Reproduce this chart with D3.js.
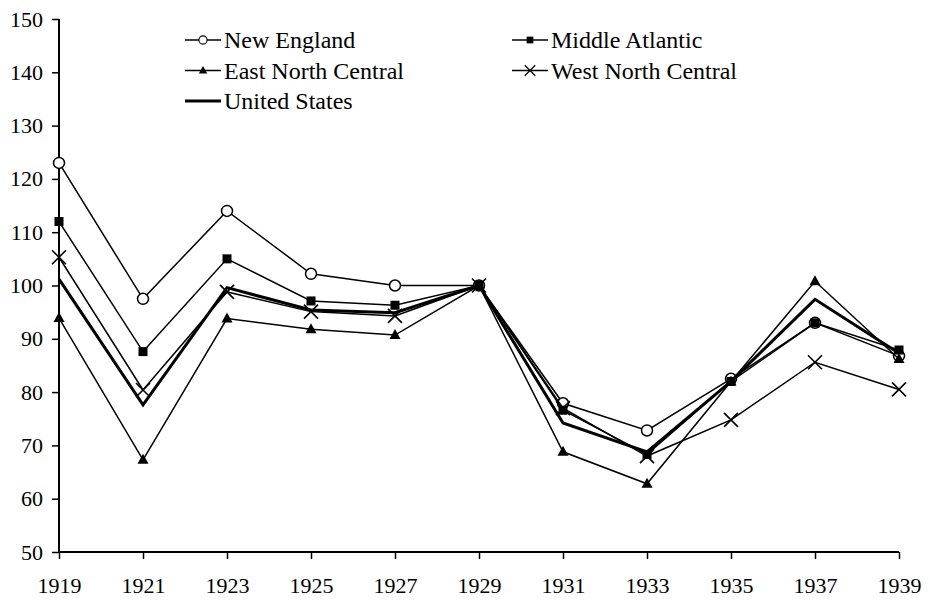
<!DOCTYPE html>
<html>
<head>
<meta charset="utf-8">
<script src="https://cdn.jsdelivr.net/npm/d3@7"></script>
<style>
  body { margin: 0; background: #fff; }
</style>
</head>
<body>
<div id="chart"></div>
<script>
// years on the x axis
const years = [1919, 1921, 1923, 1925, 1927, 1929, 1931, 1933, 1935, 1937, 1939];
const yTicks = [50, 60, 70, 80, 90, 100, 110, 120, 130, 140, 150];

// index values per region (1929 = 100)
const newEngland       = [123, 97.5, 114, 102.2, 100, 100, 77.9, 72.8, 82.5, 93, 86.8];
const middleAtlantic   = [112, 87.6, 105, 97.1, 96.3, 100, 76.6, 68.3, 82, 93, 87.9];
const eastNorthCentral = [93.9, 67.3, 93.8, 91.8, 90.7, 100, 68.8, 62.8, 82, 100.8, 86.2];
const westNorthCentral = [105.3, 80.4, 98.8, 95.1, 94.3, 100, 77, 68, 74.8, 85.6, 80.5];
const unitedStates     = [101.2, 77.6, 99.6, 95.4, 94.9, 100, 74.2, 68.8, 82, 97.4, 87.3];

const series = [
  { name: "New England", values: newEngland, marker: "circle", width: 1.5 },
  { name: "Middle Atlantic", values: middleAtlantic, marker: "square", width: 1.5 },
  { name: "East North Central", values: eastNorthCentral, marker: "triangle", width: 1.5 },
  { name: "West North Central", values: westNorthCentral, marker: "cross", width: 1.5 },
  { name: "United States", values: unitedStates, marker: null, width: 3 }
];

const FONT = "'Liberation Serif', 'DejaVu Serif', 'Times New Roman', Times, serif";
const width = 930, height = 603;

const svg = d3.select("#chart").append("svg")
  .attr("width", width)
  .attr("height", height);

const x = d3.scaleLinear().domain([1919, 1939]).range([59, 899]);
const y = d3.scaleLinear().domain([50, 150]).range([552, 19]);

// axes
const xAxis = d3.axisBottom(x).tickValues(years).tickFormat(d3.format("d")).tickSize(7);
const yAxis = d3.axisLeft(y).tickValues(yTicks).tickSize(7);

const gx = svg.append("g")
  .attr("transform", "translate(0," + y(50) + ")")
  .call(xAxis)
  .attr("font-family", FONT);
gx.select(".domain").attr("d", "M" + x(1919) + ",0H" + x(1939)).attr("stroke-width", 2);
gx.selectAll(".tick line").attr("stroke-width", 1.5);
gx.selectAll(".tick text")
  .attr("y", 25)
  .attr("font-family", FONT)
  .attr("fill", "#000")
  .style("font-size", "22px");

const gy = svg.append("g")
  .attr("transform", "translate(" + x(1919) + ",0)")
  .call(yAxis)
  .attr("font-family", FONT);
gy.select(".domain").attr("d", "M0," + y(150) + "V" + y(50)).attr("stroke-width", 2);
gy.selectAll(".tick line").attr("stroke-width", 1.5);
gy.selectAll(".tick text")
  .attr("x", -16)
  .attr("font-family", FONT)
  .attr("fill", "#000")
  .style("font-size", "22px");
svg.selectAll(".domain, .tick line").attr("stroke", "#000");

// marker drawing
function drawMarker(g, type, cx, cy) {
  if (type === "circle") {
    g.append("circle").attr("cx", cx).attr("cy", cy).attr("r", 5.5)
      .attr("fill", "#fff").attr("stroke", "#000").attr("stroke-width", 1.5);
  } else if (type === "square") {
    g.append("rect").attr("x", cx - 4.5).attr("y", cy - 4.5).attr("width", 9).attr("height", 9)
      .attr("fill", "#000");
  } else if (type === "triangle") {
    g.append("path")
      .attr("d", "M" + cx + "," + (cy - 6) + "L" + (cx + 5.5) + "," + (cy + 4) + "L" + (cx - 5.5) + "," + (cy + 4) + "Z")
      .attr("fill", "#000");
  } else if (type === "cross") {
    const s = 7;
    g.append("path")
      .attr("d", "M" + (cx - s) + "," + (cy - s) + "L" + (cx + s) + "," + (cy + s) +
                 "M" + (cx - s) + "," + (cy + s) + "L" + (cx + s) + "," + (cy - s))
      .attr("stroke", "#000").attr("stroke-width", 1.6).attr("fill", "none");
  }
}

const line = d3.line()
  .x((d, i) => x(years[i]))
  .y(d => y(d));

series.forEach(s => {
  const g = svg.append("g").attr("class", "series");
  g.append("path")
    .attr("d", line(s.values))
    .attr("fill", "none")
    .attr("stroke", "#000")
    .attr("stroke-width", s.width)
    .attr("stroke-linejoin", "miter");
  if (s.marker) {
    s.values.forEach((v, i) => drawMarker(g, s.marker, x(years[i]), y(v)));
  }
});

// legend
const legendPos = [
  { x: 185, y: 40 },
  { x: 512, y: 40 },
  { x: 185, y: 70.5 },
  { x: 512, y: 70.5 },
  { x: 185, y: 101 }
];

series.forEach((s, i) => {
  const p = legendPos[i];
  const g = svg.append("g").attr("class", "legend");
  g.append("line")
    .attr("x1", p.x).attr("x2", p.x + 36)
    .attr("y1", p.y).attr("y2", p.y)
    .attr("stroke", "#000").attr("stroke-width", s.width === 3 ? 3 : 1.5);
  if (s.marker) {
    const gm = g.append("g").attr("transform", "translate(" + (p.x + 18) + "," + p.y + ") scale(0.75)");
    drawMarker(gm, s.marker, 0, 0);
  }
  g.append("text")
    .attr("x", p.x + 39)
    .attr("y", p.y)
    .attr("dy", "0.35em")
    .attr("font-family", FONT)
    .attr("fill", "#000")
    .style("font-size", "24px")
    .text(s.name);
});
</script>
</body>
</html>
